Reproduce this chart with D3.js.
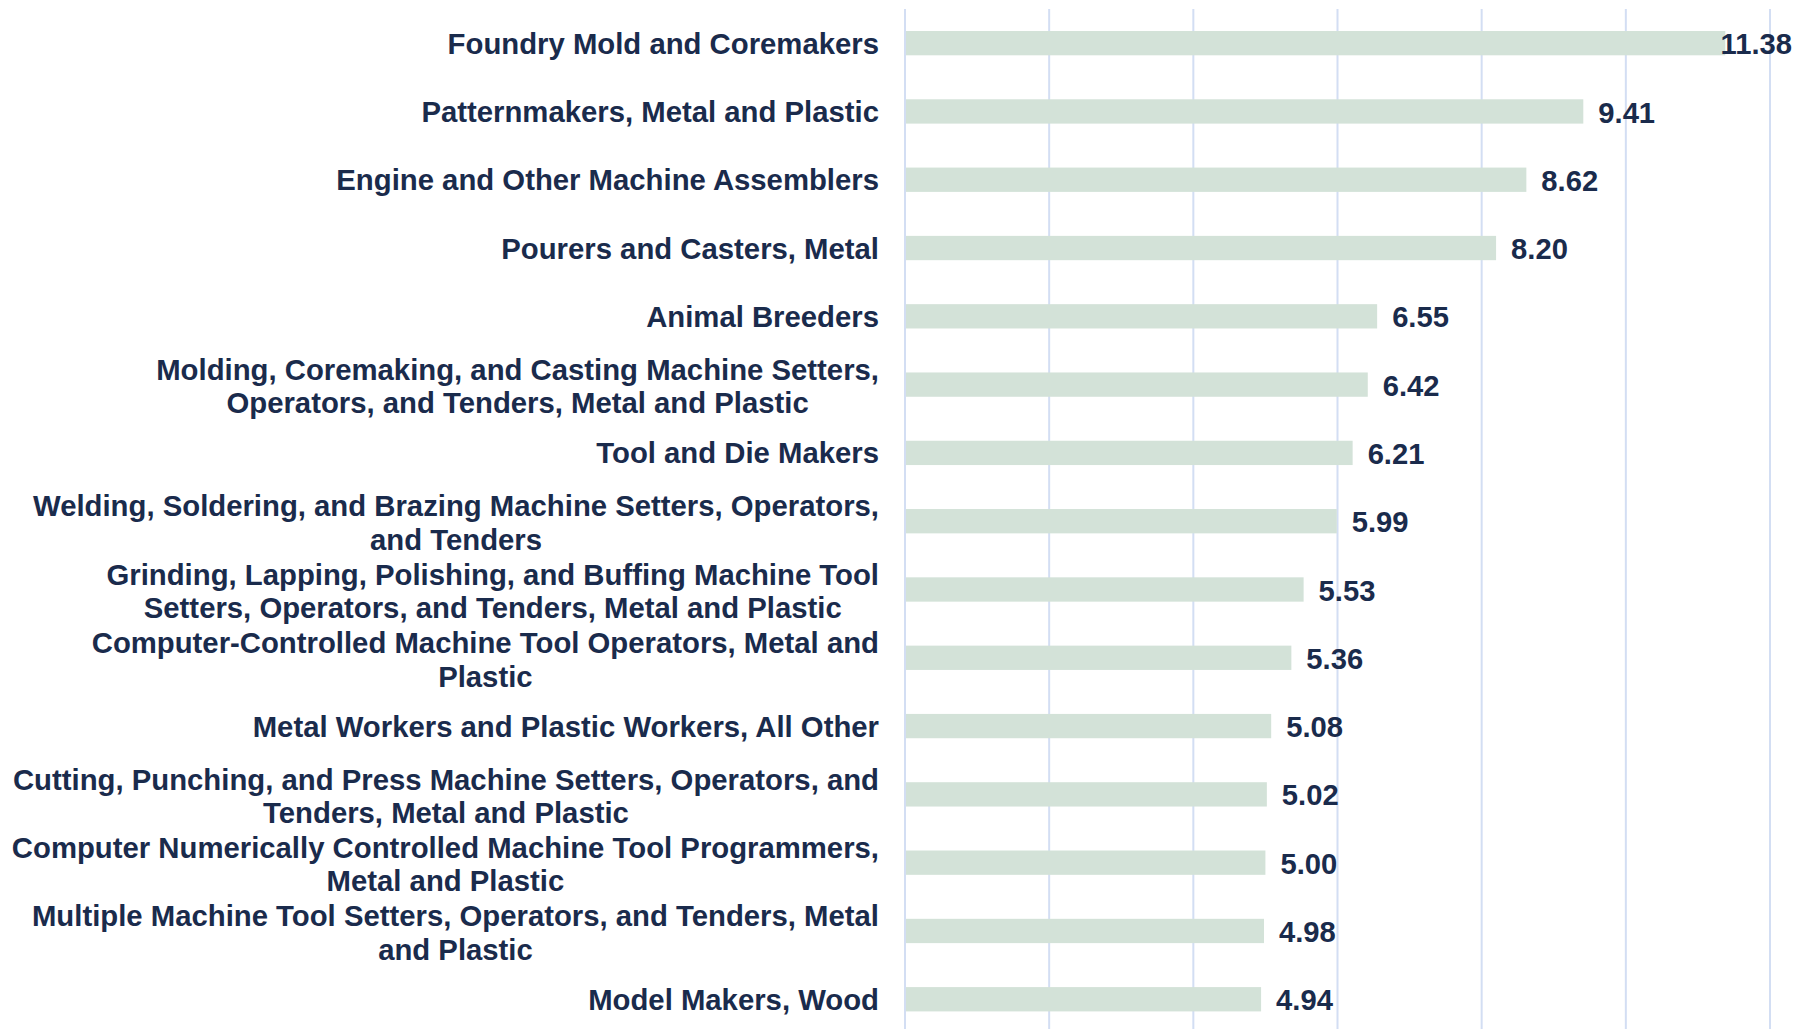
<!DOCTYPE html>
<html>
<head>
<meta charset="utf-8">
<script src="https://cdn.jsdelivr.net/npm/d3@7"></script>
<style>
  html, body { margin: 0; padding: 0; background: #ffffff; }
  svg { display: block; }
  text { font-family: "Liberation Sans", Arial, sans-serif; font-weight: bold; fill: #1a2b4c; }
</style>
</head>
<body>
<svg id="chart" width="1810" height="1029"></svg>
<script>
// Data
const categories = [
  "Foundry Mold and Coremakers",
  "Patternmakers, Metal and Plastic",
  "Engine and Other Machine Assemblers",
  "Pourers and Casters, Metal",
  "Animal Breeders",
  "Molding, Coremaking, and Casting Machine Setters,\nOperators, and Tenders, Metal and Plastic",
  "Tool and Die Makers",
  "Welding, Soldering, and Brazing Machine Setters, Operators,\nand Tenders",
  "Grinding, Lapping, Polishing, and Buffing Machine Tool\nSetters, Operators, and Tenders, Metal and Plastic",
  "Computer-Controlled Machine Tool Operators, Metal and\nPlastic",
  "Metal Workers and Plastic Workers, All Other",
  "Cutting, Punching, and Press Machine Setters, Operators, and\nTenders, Metal and Plastic",
  "Computer Numerically Controlled Machine Tool Programmers,\nMetal and Plastic",
  "Multiple Machine Tool Setters, Operators, and Tenders, Metal\nand Plastic",
  "Model Makers, Wood"
];
const values = [11.38, 9.41, 8.62, 8.20, 6.55, 6.42, 6.21, 5.99, 5.53, 5.36, 5.08, 5.02, 5.00, 4.98, 4.94];
const xTicks = [0, 2, 4, 6, 8, 10, 12];

const W = 1810, H = 1029;
const svg = d3.select("#chart");

const x = d3.scaleLinear().domain([0, 12]).range([905, 1770]);
const y = d3.scaleBand().domain(categories).range([9, 1033.4]).paddingInner(0.644).paddingOuter(0.322);

// Gridlines
svg.append("g").selectAll("line").data(xTicks).join("line")
  .attr("x1", d => x(d)).attr("x2", d => x(d))
  .attr("y1", 9).attr("y2", H)
  .attr("stroke", "#d3def3").attr("stroke-width", 2);

// Bars
svg.append("g").selectAll("rect").data(values).join("rect")
  .attr("x", x(0) + 1)
  .attr("y", (d, i) => y(categories[i]))
  .attr("width", d => x(d) - x(0) - 1)
  .attr("height", y.bandwidth())
  .attr("fill", "#d3e2d8");

// Value labels
const vl = svg.append("g").selectAll("text").data(values).join("text")
  .attr("font-size", 29.2)
  .attr("dy", "0.38em")
  .attr("y", (d, i) => y(categories[i]) + y.bandwidth() / 2)
  .text(d => d.toFixed(2));
vl.each(function(d) {
  const w = this.getComputedTextLength();
  let px = x(d) + 15;
  if (px + w > W - 18) px = W - 18 - w;
  d3.select(this).attr("x", px);
});

// Category labels
const rightEdge = 879;
const lineH = 33.5;
const lg = svg.append("g");
categories.forEach((c, i) => {
  const lines = c.split("\n");
  const cy = y(c) + y.bandwidth() / 2;
  const t = lg.append("text").attr("font-size", 29.3).attr("text-anchor", "middle");
  const spans = lines.map((ln, j) => t.append("tspan")
    .attr("y", cy + (j - (lines.length - 1) / 2) * lineH + (lines.length > 1 ? 1.5 : 0))
    .attr("dy", "0.36em")
    .text(ln));
  let maxW = 0;
  spans.forEach(s => { maxW = Math.max(maxW, s.node().getComputedTextLength()); });
  spans.forEach(s => s.attr("x", rightEdge - maxW / 2));
});
</script>
</body>
</html>
